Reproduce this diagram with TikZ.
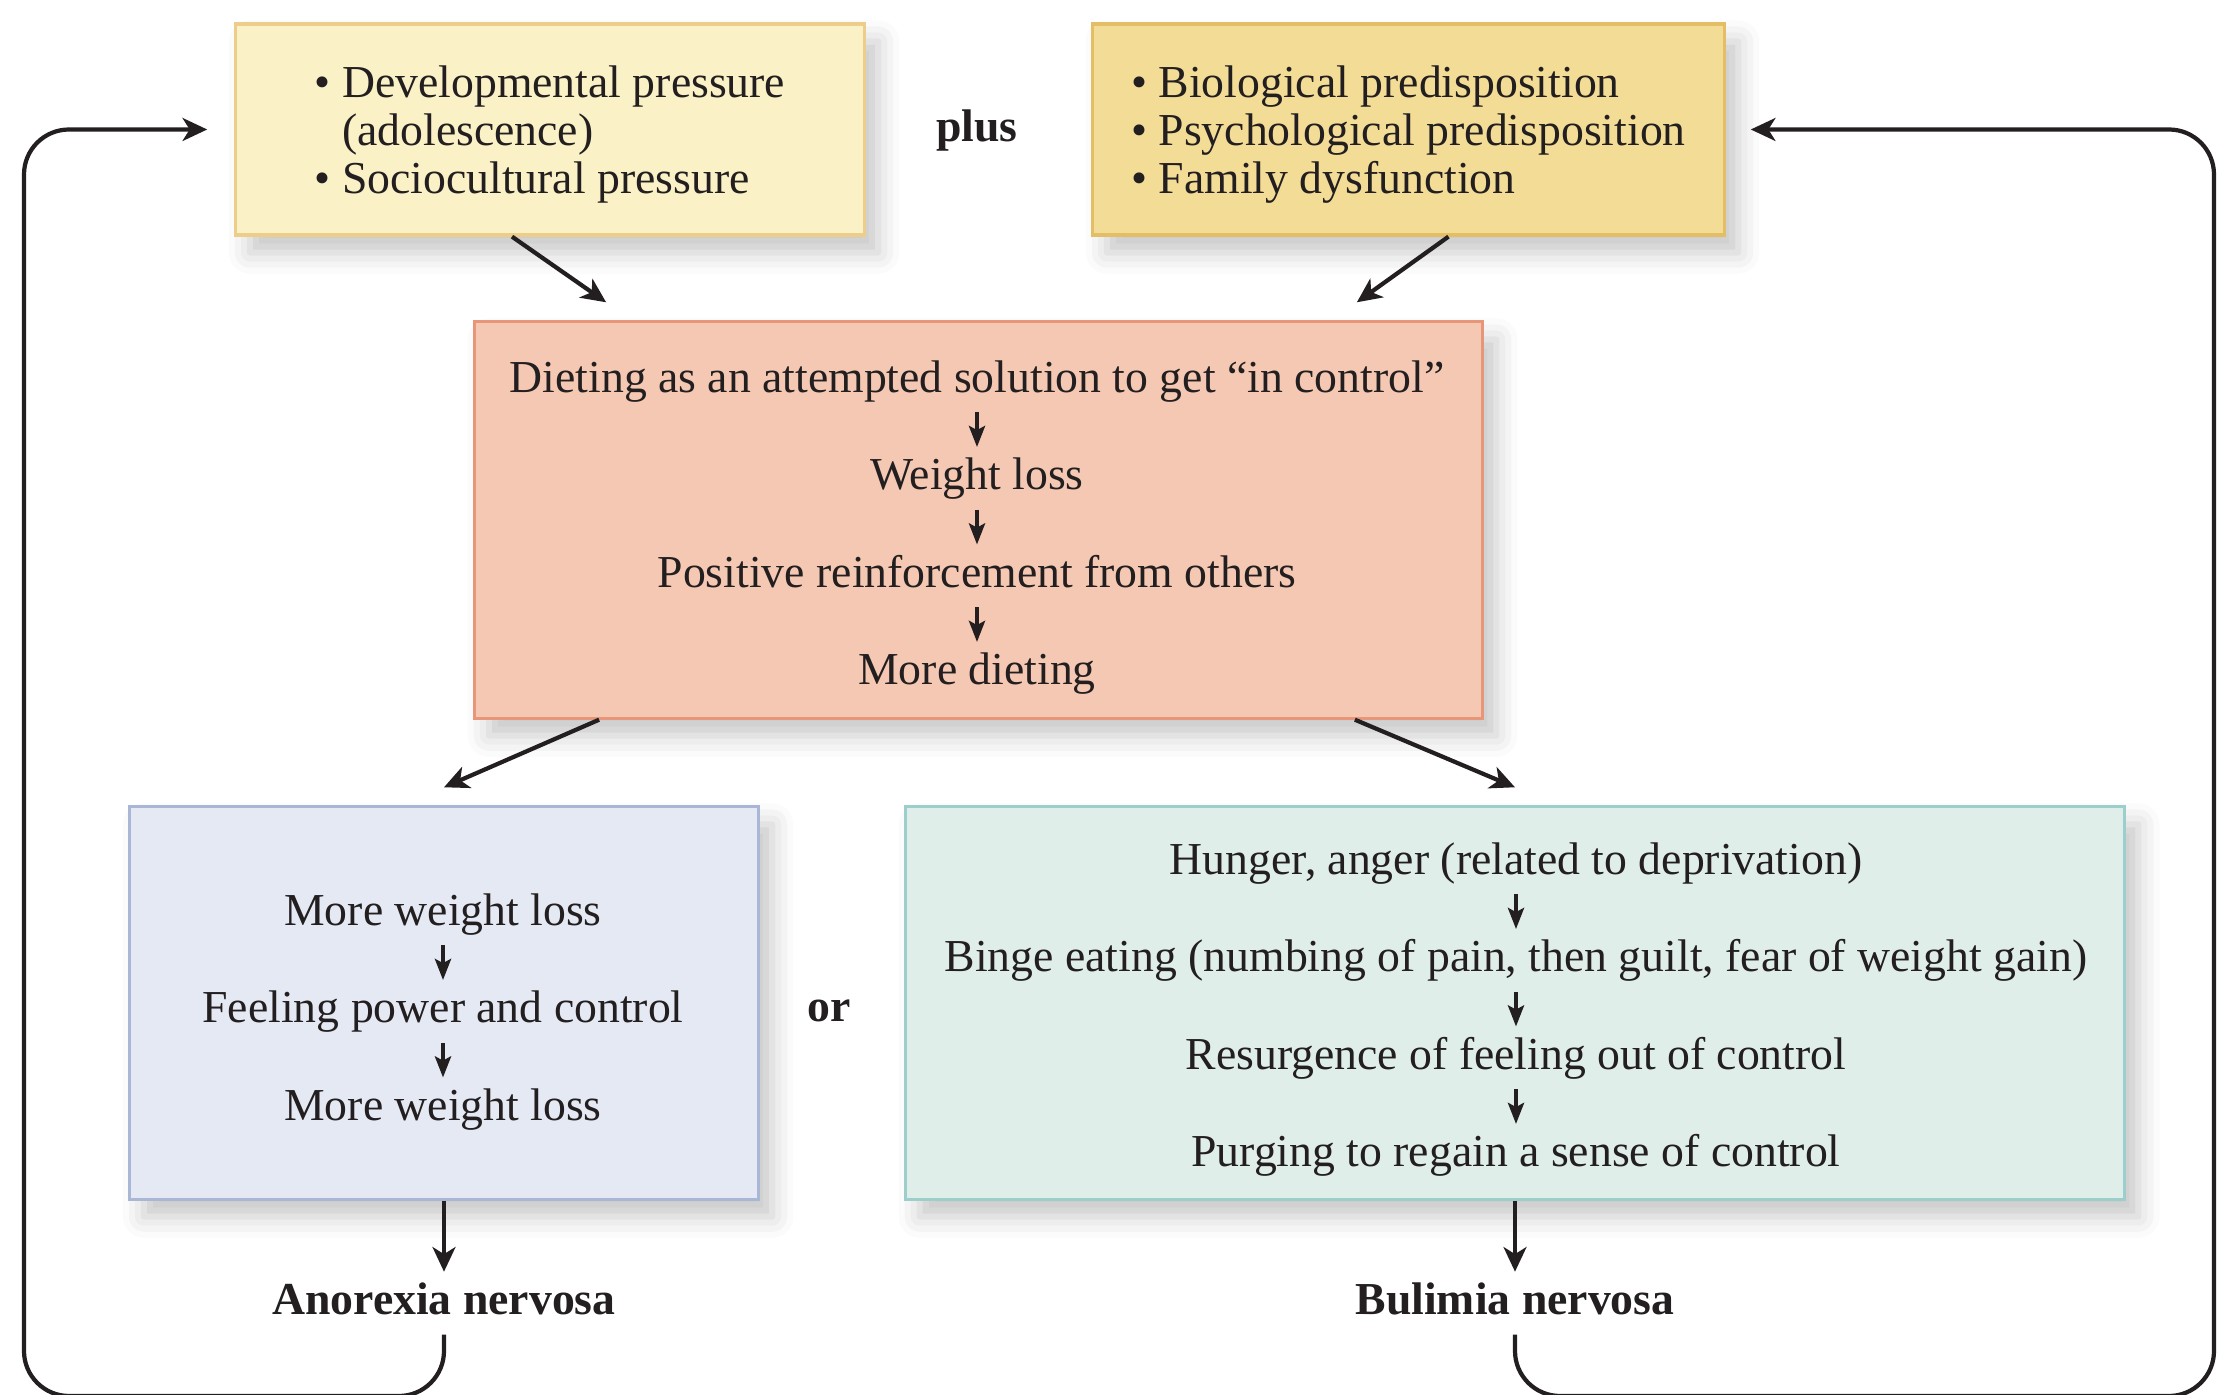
\documentclass[tikz,border=0pt]{standalone}
\usepackage{fontspec}
\setmainfont{Liberation Serif}
\usetikzlibrary{arrows.meta, positioning, calc, shadows.blur}
\definecolor{InkBlack}{RGB}{35, 31, 32}
\definecolor{PaleButter}{RGB}{250, 241, 198}
\definecolor{ButterEdge}{RGB}{236, 206, 138}
\definecolor{WarmSand}{RGB}{242, 220, 150}
\definecolor{SandEdge}{RGB}{228, 190, 100}
\definecolor{SoftSalmon}{RGB}{244, 200, 178}
\definecolor{SalmonEdge}{RGB}{232, 150, 122}
\definecolor{MistBlue}{RGB}{228, 233, 243}
\definecolor{MistEdge}{RGB}{170, 182, 214}
\definecolor{MintGrey}{RGB}{224, 238, 234}
\definecolor{MintEdge}{RGB}{156, 207, 203}

\begin{document}
\begin{tikzpicture}[
        x=0.01cm, y=-0.01cm,
        font=\fontsize{13}{13.7}\selectfont, text=InkBlack,
        panel/.style={line width=0.9pt, inner sep=0pt, align=left, blur shadow={shadow xshift=4pt, shadow yshift=-5pt, shadow blur radius=6pt, shadow opacity=22}},
        entry/.style={inner sep=3pt, text height=9pt, text depth=2.5pt},
        tag/.style={entry, font=\fontsize{13}{13.7}\selectfont\bfseries},
        flow/.style={draw=InkBlack, line width=1.2pt, -{Stealth[length=7pt, width=6.5pt, inset=2pt]}},
        inarrow/.style={draw=InkBlack, line width=1pt, -{Stealth[length=6pt, width=4.6pt, inset=1.2pt]}}
    ]
        \useasboundingbox (0,0) rectangle (2217,1395);

        \node[panel, fill=PaleButter, draw=ButterEdge, minimum width=6.28cm, minimum height=2.11cm, text depth=0pt] (press) at (550,129.5) {\textbullet\ Developmental pressure\\ \phantom{\textbullet\ }(adolescence)\\ \textbullet\ Sociocultural pressure};
        \node[panel, fill=WarmSand, draw=SandEdge, minimum width=6.31cm, minimum height=2.11cm, text depth=0pt] (predis) at (1408.5,129.5) {\textbullet\ Biological predisposition\\ \textbullet\ Psychological predisposition\\ \textbullet\ Family dysfunction};
        \node[tag] (plus) at (977,130) {plus};

        \node[panel, fill=SoftSalmon, draw=SalmonEdge, minimum width=10.07cm, minimum height=3.96cm] (diet) at (978.5,520) {};
        \node[entry] (c1) at (977,381) {Dieting as an attempted solution to get ``in control''};
        \node[entry, below=0.345cm of c1] (c2) {Weight loss};
        \node[entry, below=0.345cm of c2] (c3) {Positive reinforcement from others};
        \node[entry, below=0.345cm of c3] (c4) {More dieting};

        \node[panel, fill=MistBlue, draw=MistEdge, minimum width=6.28cm, minimum height=3.92cm] (anor) at (444,1003) {};
        \node[entry] (d1) at (443,914) {More weight loss};
        \node[entry, below=0.345cm of d1] (d2) {Feeling power and control};
        \node[entry, below=0.345cm of d2] (d3) {More weight loss};

        \node[tag] (or) at (829,1010) {or};

        \node[panel, fill=MintGrey, draw=MintEdge, minimum width=12.18cm, minimum height=3.92cm] (buli) at (1515,1003) {};
        \node[entry] (e1) at (1516,863) {Hunger, anger (related to deprivation)};
        \node[entry, below=0.345cm of e1] (e2) {Binge eating (numbing of pain, then guilt, fear of weight gain)};
        \node[entry, below=0.345cm of e2] (e3) {Resurgence of feeling out of control};
        \node[entry, below=0.345cm of e3] (e4) {Purging to regain a sense of control};

        \node[tag, below=0.71cm of anor] (anorexia) {Anorexia nervosa};
        \node[tag, below=0.71cm of buli] (bulimia) {Bulimia nervosa};

        \foreach \a/\b in {c1/c2, c2/c3, c3/c4, d1/d2, d2/d3, e1/e2, e2/e3, e3/e4}
            \draw[inarrow] (\a) -- (\b);

        \coordinate (inA) at ($(diet.north west)+(133,-18)$);
        \coordinate (inB) at ($(diet.north east)+(-127,-18)$);
        \coordinate (toAnor) at ($(anor.north)+(0,-18)$);
        \coordinate (toBuli) at ($(buli.north)+(0,-18)$);
        \coordinate (lowL) at (24,1396);
        \coordinate (lowR) at (2214,1396);
        \coordinate (backA) at ($(press.west)+(-27,0)$);
        \coordinate (backB) at ($(predis.east)+(25,0)$);

        \draw[flow] ($(press.south)+(-38,0)$) -- (inA);
        \draw[flow] ($(predis.south)+(40,0)$) -- (inB);
        \draw[flow] ($(diet.south west)+(126,0)$) -- (toAnor);
        \draw[flow] ($(diet.south east)+(-129,0)$) -- (toBuli);
        \draw[flow] (anor) -- (anorexia);
        \draw[flow] (buli) -- (bulimia);
        \draw[flow, rounded corners=0.45cm] (anorexia.south) |- (lowL) |- (backA);
        \draw[flow, rounded corners=0.45cm] (bulimia.south) |- (lowR) |- (backB);
    \end{tikzpicture}
\end{document}
